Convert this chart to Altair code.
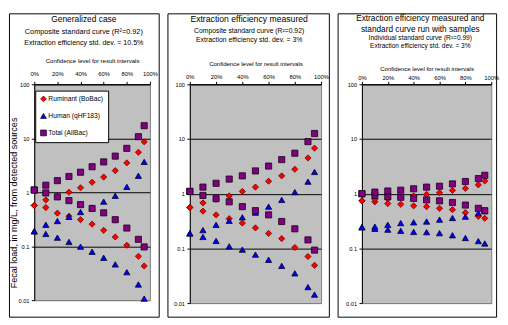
import altair as alt
import pandas as pd

FONT = "Liberation Sans, Arial, sans-serif"

LEVELS = [0, 10, 20, 30, 40, 50, 60, 70, 80, 90, 95]
SERIES = ["Ruminant (BoBac)", "Human (qHF183)", "Total (AllBac)"]
X_TICKS = [0, 20, 40, 60, 80, 100]
Y_TICKS = [0.01, 0.1, 1, 10, 100]

# Panel 1: Generalized case
rum_lo1 = [0.57, 0.52, 0.41, 0.36, 0.31, 0.256, 0.197, 0.148, 0.104, 0.065, 0.043]
rum_hi1 = [0.57, 0.72, 0.84, 1.0, 1.21, 1.53, 1.91, 2.52, 3.5, 5.5, 8.6]
hum_lo1 = [0.189, 0.169, 0.144, 0.12, 0.098, 0.079, 0.061, 0.046, 0.033, 0.0195, 0.0107]
hum_hi1 = [0.189, 0.25, 0.293, 0.35, 0.43, 0.52, 0.67, 0.86, 1.26, 2.02, 3.65]
tot_lo1 = [1.1, 0.97, 0.82, 0.70, 0.59, 0.50, 0.415, 0.31, 0.217, 0.134, 0.097]
tot_hi1 = [1.1, 1.35, 1.64, 1.96, 2.35, 2.97, 3.65, 4.67, 6.5, 10.7, 17.1]

# Panel 2: Extraction efficiency measured
rum_lo2 = [0.56, 0.48, 0.41, 0.35, 0.29, 0.237, 0.188, 0.151, 0.104, 0.071, 0.049]
rum_hi2 = [0.56, 0.68, 0.79, 0.91, 1.1, 1.32, 1.69, 2.12, 2.8, 4.5, 6.8]
hum_lo2 = [0.188, 0.162, 0.137, 0.109, 0.095, 0.077, 0.062, 0.048, 0.035, 0.0196, 0.0143]
hum_hi2 = [0.188, 0.216, 0.27, 0.32, 0.37, 0.45, 0.58, 0.77, 1.07, 1.66, 2.5]
tot_lo2 = [1.1, 0.93, 0.81, 0.71, 0.58, 0.49, 0.41, 0.31, 0.228, 0.143, 0.093]
tot_hi2 = [1.1, 1.32, 1.55, 1.85, 2.12, 2.61, 3.2, 4.2, 5.5, 8.95, 12.6]

# Panel 3: Extraction efficiency measured and standard curve run with samples
rum_lo3 = [0.74, 0.71, 0.66, 0.64, 0.60, 0.58, 0.54, 0.51, 0.45, 0.385, 0.355]
rum_hi3 = [0.74, 0.79, 0.81, 0.85, 0.91, 0.97, 1.04, 1.15, 1.25, 1.45, 1.71]
hum_lo3 = [0.244, 0.228, 0.22, 0.21, 0.20, 0.198, 0.19, 0.174, 0.155, 0.136, 0.123]
hum_hi3 = [0.244, 0.25, 0.27, 0.29, 0.30, 0.31, 0.336, 0.36, 0.38, 0.44, 0.48]
tot_lo3 = [1.0, 0.93, 0.88, 0.86, 0.82, 0.77, 0.74, 0.69, 0.62, 0.54, 0.49]
tot_hi3 = [1.0, 1.07, 1.12, 1.16, 1.23, 1.32, 1.37, 1.51, 1.67, 1.89, 2.17]

FILLS = ["#FF0000", "#0000FF", "#800080"]
STROKES = ["#6a0000", "#000022", "#160016"]
SHAPES = ["diamond", "triangle-up", "square"]


def make_df(lows, highs):
    rows = []
    for name, lo, hi in zip(SERIES, lows, highs):
        for lv, a, b in zip(LEVELS, lo, hi):
            rows.append({"level": lv, "value": a, "series": name, "bound": "lower"})
            rows.append({"level": lv, "value": b, "series": name, "bound": "upper"})
    return pd.DataFrame(rows)


def text_layer(s, x, y, size, angle=0):
    return alt.Chart(alt.Data(values=[{}])).mark_text(
        text=s, font=FONT, fontSize=size, color="black",
        align="center", baseline="middle", angle=angle
    ).encode(x=alt.value(x), y=alt.value(y))


def frame_layer(x1, x2, y1, y2):
    return alt.Chart(alt.Data(values=[{}])).mark_rect(
        fillOpacity=0, stroke="black", strokeWidth=1
    ).encode(x=alt.value(x1), x2=alt.value(x2), y=alt.value(y1), y2=alt.value(y2))


def panel(df, width, height, frame_x, texts, axis_title_y, label_pad, legend):
    xaxis = alt.Axis(
        orient="top", values=X_TICKS, labelExpr="datum.value + '%'",
        title="Confidence level for result intervals", titleFont=FONT,
        titleFontSize=6.2, titleFontWeight="normal", titleColor="black",
        titleY=axis_title_y, titleBaseline="middle",
        labelFont=FONT, labelFontSize=6, labelColor="black",
        labelPadding=label_pad, labelFlush=False, labelOverlap=False,
        tickColor="black", tickSize=3, domainColor="black", grid=False,
    )
    yaxis = alt.Axis(
        values=Y_TICKS, format="~g", title=None,
        labelFont=FONT, labelFontSize=5.8, labelColor="black", labelPadding=2.5,
        labelOverlap=False, tickColor="black", tickSize=3, domainColor="black",
        grid=True, gridWidth=1,
        gridColor={"condition": {"test": "datum.value < 0.05", "value": "#808080"},
                   "value": "#000000"},
    )
    pts = alt.Chart(df).mark_point(
        filled=True, opacity=1, size=40, strokeWidth=0.8
    ).encode(
        x=alt.X("level:Q", scale=alt.Scale(domain=[0, 100], nice=False, zero=False), axis=xaxis),
        y=alt.Y("value:Q", scale=alt.Scale(type="log", domain=[0.01, 100], nice=False), axis=yaxis),
        fill=alt.Fill("series:N", scale=alt.Scale(domain=SERIES, range=FILLS), legend=legend),
        stroke=alt.Stroke("series:N", scale=alt.Scale(domain=SERIES, range=STROKES), legend=legend),
        shape=alt.Shape("series:N", scale=alt.Scale(domain=SERIES, range=SHAPES), legend=legend),
    )
    frame = frame_layer(frame_x[0], frame_x[1], -72.5, 239.5)
    layers = [frame, pts] + texts
    return alt.layer(*layers).properties(width=width, height=height)


leg = alt.Legend(
    title=None, orient="none", legendX=1, legendY=6.5,
    fillColor="white", strokeColor="black", padding=5, rowPadding=8.5,
    labelFont=FONT, labelFontSize=6.9, labelColor="black", labelOffset=1.5,
    symbolSize=36, symbolStrokeWidth=0.7, symbolOpacity=1, cornerRadius=0,
)

df1 = make_df([rum_lo1, hum_lo1, tot_lo1], [rum_hi1, hum_hi1, tot_hi1])
df2 = make_df([rum_lo2, hum_lo2, tot_lo2], [rum_hi2, hum_hi2, tot_hi2])
df3 = make_df([rum_lo3, hum_lo3, tot_lo3], [rum_hi3, hum_hi3, tot_hi3])

p1 = panel(
    df1, 119, 222, (-25.5, 128.5),
    [
        text_layer("Generalized case", 51, -67, 8.6),
        text_layer("Composite standard curve (R\u00b2=0.92)", 51, -54, 7.5),
        text_layer("Extraction efficiency std. dev. = 10.5%", 51, -42, 7.3),
        text_layer("Fecal load, in mg/L, from detected sources", -20.5, 122, 9.3, angle=270),
    ],
    -24, 5, leg,
)
p2 = panel(
    df2, 135, 225, (-22.5, 143.5),
    [
        text_layer("Extraction efficiency measured", 61, -67, 8.9),
        text_layer("Composite standard curve (R\u00b2=0.92)", 61, -55, 7.0),
        text_layer("Extraction efficiency std. dev. = 3%", 61, -46, 7.1),
    ],
    -21, 1.5, None,
)
p3 = panel(
    df3, 133, 225, (-24.5, 138.5),
    [
        text_layer("Extraction efficiency measured and", 60, -68.3, 8.5),
        text_layer("standard curve run with samples", 60, -57, 8.5),
        text_layer("Individual standard curve (R\u00b2=0.99)", 60, -47.7, 6.8),
        text_layer("Extraction efficiency std. dev. = 3%", 60, -39.3, 6.7),
    ],
    -16, 1, None,
)

chart = alt.hconcat(p1, p2, p3, spacing=6).resolve_scale(
    fill="independent", stroke="independent", shape="independent"
).configure_view(
    fill="#C0C0C0", stroke="#808080", strokeWidth=1
).properties(padding=0, background="white")

chart.save("out.html", embed_options={"renderer": "svg", "actions": False})
